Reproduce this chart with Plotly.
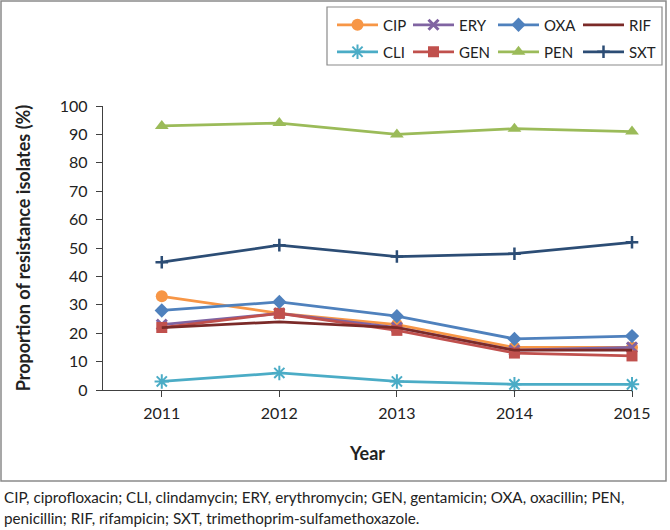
import plotly.graph_objects as go

years = [2011, 2012, 2013, 2014, 2015]
CIP = [33, 27, 23, 15, 15]
CLI = [3, 6, 3, 2, 2]
ERY = [23, 27, 22, 14, 15]
GEN = [22, 27, 21, 13, 12]
OXA = [28, 31, 26, 18, 19]
PEN = [93, 94, 90, 92, 91]
RIF = [22, 24, 22, 14, 14]
SXT = [45, 51, 47, 48, 52]
y_ticks = [0, 10, 20, 30, 40, 50, 60, 70, 80, 90, 100]

FONT = "Lato"
# name, values, colour, marker, (legend column, legend row)
series = [
    ("CIP", CIP, "#F79646", dict(symbol="circle", size=12), (0, 0)),
    ("CLI", CLI, "#4BACC6", dict(symbol="asterisk-open", size=12, line=dict(width=2, color="#4BACC6")), (0, 1)),
    ("ERY", ERY, "#8064A2", dict(symbol="x-thin-open", size=10, line=dict(width=3, color="#8064A2")), (1, 0)),
    ("GEN", GEN, "#C0504D", dict(symbol="square", size=11), (1, 1)),
    ("OXA", OXA, "#4F81BD", dict(symbol="diamond", size=11), (2, 0)),
    ("PEN", PEN, "#9BBB59", dict(symbol="triangle-up", size=12), (2, 1)),
    ("RIF", RIF, "#7B2A28", None, (3, 0)),
    ("SXT", SXT, "#2C4D75", dict(symbol="cross-thin-open", size=9, line=dict(width=2.5, color="#2C4D75")), (3, 1)),
]

L, R, T, B = 103, 38, 106, 140
W, H = 670, 530
pw, ph = W - L - R, H - T - B

def px_x(px):
    return (px - L) / pw

def px_y(py):
    return (H - B - py) / ph

col_px = [337, 413, 498, 583]
row_px = [25, 52]

fig = go.Figure()
legends = {}
for i, (name, vals, color, marker, (c, r)) in enumerate(series):
    key = "legend" if i == 0 else f"legend{i + 1}"
    kw = dict(x=years, y=vals, name=name, legend=key, cliponaxis=False, showlegend=True,
              line=dict(color=color, width=2.75))
    if marker is None:
        kw["mode"] = "lines"
    else:
        m = dict(marker)
        m.setdefault("color", color)
        kw["mode"] = "lines+markers"
        kw["marker"] = m
    fig.add_trace(go.Scatter(**kw))
    legends[key] = dict(x=px_x(col_px[c] - 5), y=px_y(row_px[r]), xanchor="left", yanchor="middle",
                        orientation="v", bgcolor="rgba(0,0,0,0)", borderwidth=0, itemwidth=41,
                        visible=True,
                        font=dict(family=FONT, size=15, color="#222"))

fig.update_layout(
    width=W, height=H,
    showlegend=True,
    margin=dict(l=L, r=R, t=T, b=B, autoexpand=False),
    paper_bgcolor="white", plot_bgcolor="white",
    font=dict(family=FONT, color="#222"),
    xaxis=dict(
        range=[2010.5, 2015.0], tickvals=years, ticktext=[str(y) for y in years],
        showgrid=False, zeroline=False, showline=True, linecolor="#404040", linewidth=1.3,
        ticks="outside", ticklen=6, tickcolor="#404040", tickwidth=1.3, ticklabelstandoff=3,
        tickfont=dict(family=FONT, size=16, color="#222"),
        title=dict(text="<b>Year</b>", font=dict(family=FONT, size=18, color="#222"), standoff=26),
    ),
    yaxis=dict(
        range=[0, 100], tickvals=y_ticks,
        showgrid=False, zeroline=False, showline=True, linecolor="#404040", linewidth=1.3,
        ticks="outside", ticklen=6, tickcolor="#404040", tickwidth=1.3, ticklabelstandoff=5,
        tickfont=dict(family=FONT, size=16, color="#222"),
        title=dict(text="<b>Proportion of resistance isolates (%)</b>",
                   font=dict(family=FONT, size=18, color="#222"), standoff=24),
    ),
    shapes=[
        # outer chart frame
        dict(type="rect", xref="paper", yref="paper", xsizemode="pixel", ysizemode="pixel",
             xanchor=0, yanchor=0, x0=1 - L, x1=666 - L, y0=(H - B) - 481, y1=(H - B) - 1,
             line=dict(color="#8a8a8a", width=1.5), fillcolor="rgba(0,0,0,0)", layer="below"),
        # legend border
        dict(type="rect", xref="paper", yref="paper", xsizemode="pixel", ysizemode="pixel",
             xanchor=0, yanchor=0, x0=327 - L, x1=662 - L, y0=(H - B) - 65, y1=(H - B) - 7,
             line=dict(color="#8a8a8a", width=1.2), fillcolor="rgba(0,0,0,0)", layer="below"),
    ],
    annotations=[
        dict(xref="paper", yref="paper", x=px_x(2), y=px_y(497), xanchor="left", yanchor="middle",
             showarrow=False, align="left",
             text="CIP, ciprofloxacin; CLI, clindamycin; ERY, erythromycin; GEN, gentamicin; OXA, oxacillin; PEN,",
             font=dict(family=FONT, size=15.2, color="#222")),
        dict(xref="paper", yref="paper", x=px_x(2), y=px_y(518), xanchor="left", yanchor="middle",
             showarrow=False, align="left",
             text="penicillin; RIF, rifampicin; SXT, trimethoprim-sulfamethoxazole.",
             font=dict(family=FONT, size=15.2, color="#222")),
    ],
    **legends,
)

fig.write_html("out.html", config={"displayModeBar": False},
               post_script="document.body.style.margin='0';")
